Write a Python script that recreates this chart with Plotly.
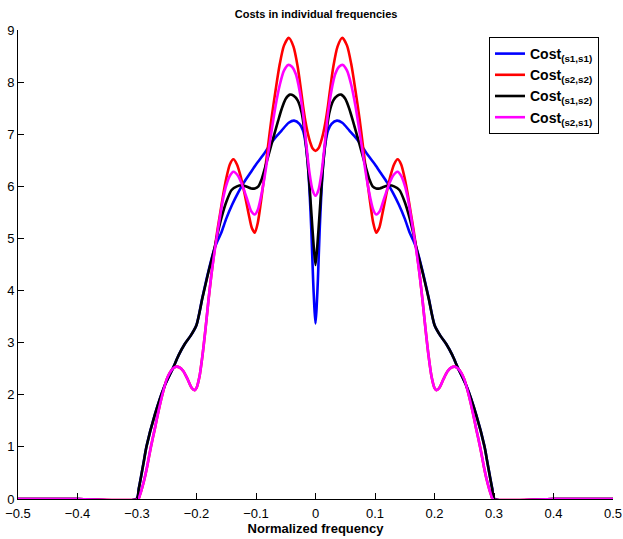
import numpy as np
import plotly.graph_objects as go

# ---- data (right half; the chart is symmetric about 0) ----
tail_x = [0.200, 0.210, 0.220, 0.230, 0.240, 0.254, 0.270, 0.284, 0.288, 0.293, 0.297, 0.301, 0.400, 0.500]
tail_y = [3.34, 3.13, 2.97, 2.76, 2.50, 2.16, 1.62, 1.01, 0.76, 0.44, 0.20, 0.00, 0.00, 0.00]

blue_x = [0.000, 0.002, 0.004, 0.007, 0.010, 0.013, 0.017, 0.021, 0.027, 0.036, 0.045, 0.057,
          0.068, 0.077, 0.088, 0.100, 0.110, 0.120, 0.130, 0.140, 0.150, 0.158, 0.164, 0.170,
          0.180, 0.190] + tail_x
blue_y = [3.37, 3.70, 4.20, 5.16, 5.90, 6.44, 6.85, 7.07, 7.20, 7.26, 7.22, 7.07,
          6.93, 6.79, 6.60, 6.42, 6.25, 6.08, 5.88, 5.65, 5.38, 5.12, 4.97, 4.80,
          4.37, 3.87] + tail_y

black_x = [0.000, 0.003, 0.007, 0.010, 0.013, 0.018, 0.023, 0.030, 0.037, 0.043, 0.050, 0.057,
           0.063, 0.070, 0.077, 0.085, 0.091, 0.096, 0.102, 0.108, 0.115, 0.124, 0.132, 0.141,
           0.150, 0.158, 0.164, 0.170, 0.180, 0.190] + tail_x
black_y = [4.49, 4.85, 5.50, 6.00, 6.44, 7.00, 7.40, 7.65, 7.74, 7.76, 7.68, 7.48,
           7.25, 6.97, 6.68, 6.35, 6.12, 6.00, 5.96, 5.96, 5.99, 6.02, 6.00, 5.93,
           5.70, 5.40, 5.12, 4.80, 4.35, 3.86] + tail_y

low_x = [0.175, 0.180, 0.185, 0.190, 0.195, 0.200, 0.203, 0.208, 0.215, 0.222, 0.228, 0.234,
         0.240, 0.245, 0.250, 0.257, 0.264, 0.270, 0.277, 0.283, 0.288, 0.292, 0.295, 0.298,
         0.400, 0.500]
low_y = [4.30, 3.80, 3.25, 2.75, 2.35, 2.13, 2.09, 2.13, 2.30, 2.45, 2.52, 2.54,
         2.50, 2.42, 2.30, 2.02, 1.68, 1.35, 0.98, 0.62, 0.36, 0.19, 0.08, 0.00,
         0.00, 0.00]

red_x = [0.000, 0.005, 0.009, 0.013, 0.017, 0.021, 0.025, 0.030, 0.037, 0.045, 0.053, 0.060,
         0.067, 0.074, 0.080, 0.086, 0.092, 0.097, 0.102, 0.107, 0.112, 0.119, 0.126, 0.132,
         0.138, 0.144, 0.150, 0.155, 0.160, 0.165, 0.170] + low_x
red_y = [6.68, 6.73, 6.85, 7.02, 7.25, 7.55, 7.90, 8.30, 8.68, 8.85, 8.70, 8.35,
         7.85, 7.30, 6.75, 6.20, 5.68, 5.30, 5.11, 5.20, 5.45, 5.85, 6.20, 6.42,
         6.52, 6.42, 6.15, 5.85, 5.50, 5.15, 4.75] + low_y

mag_x = [0.000, 0.005, 0.010, 0.015, 0.021, 0.027, 0.033, 0.040, 0.046, 0.053, 0.060, 0.067,
         0.074, 0.080, 0.086, 0.092, 0.097, 0.102, 0.108, 0.114, 0.122, 0.130, 0.138, 0.144,
         0.150, 0.155, 0.160, 0.165, 0.170] + low_x
mag_y = [5.82, 5.93, 6.25, 6.75, 7.40, 7.85, 8.15, 8.30, 8.33, 8.22, 7.95, 7.55,
         7.05, 6.60, 6.15, 5.78, 5.55, 5.46, 5.52, 5.72, 5.99, 6.20, 6.28, 6.20,
         6.02, 5.78, 5.45, 5.10, 4.72] + low_y

x_ticks = [-0.5, -0.4, -0.3, -0.2, -0.1, 0, 0.1, 0.2, 0.3, 0.4, 0.5]
x_tick_labels = ["\u22120.5", "\u22120.4", "\u22120.3", "\u22120.2", "\u22120.1", "0",
                 "0.1", "0.2", "0.3", "0.4", "0.5"]
y_ticks = [0, 1, 2, 3, 4, 5, 6, 7, 8, 9]

series = [
    ("<b>Cost<sub>(s1,s1)</sub></b>", blue_x, blue_y, "#0000FF"),
    ("<b>Cost<sub>(s2,s2)</sub></b>", red_x, red_y, "#FF0000"),
    ("<b>Cost<sub>(s1,s2)</sub></b>", black_x, black_y, "#000000"),
    ("<b>Cost<sub>(s2,s1)</sub></b>", mag_x, mag_y, "#FF00FF"),
]


def mirror(xs, ys):
    xs = np.asarray(xs, dtype=float)
    ys = np.asarray(ys, dtype=float)
    return (np.concatenate([-xs[::-1], xs[1:]]),
            np.concatenate([ys[::-1], ys[1:]]))


fig = go.Figure()
for name, xs, ys, col in series:
    fx, fy = mirror(xs, ys)
    fig.add_trace(go.Scatter(x=fx, y=fy, mode="lines", name=name,
                             line=dict(color=col, width=2.6, shape="spline", smoothing=0.7)))

font_family = "Liberation Sans, Arial, Helvetica, sans-serif"
fig.update_layout(
    width=623, height=539, autosize=False,
    margin=dict(l=18, r=10, t=30, b=40, autoexpand=False),
    paper_bgcolor="white", plot_bgcolor="white",
    font=dict(family=font_family, size=13, color="black"),
    title=dict(text="<b>Costs in individual frequencies</b>", x=0.5074, xanchor="center",
               y=1 - 14 / 539, yanchor="middle", yref="container",
               font=dict(size=11, family=font_family, color="black")),
    showlegend=True,
    legend=dict(x=(489 - 18) / 595, y=(499 - 37) / 469, xanchor="left", yanchor="top",
                bordercolor="black", borderwidth=1, bgcolor="white",
                font=dict(size=14, family=font_family, color="black"),
                itemwidth=30, tracegroupgap=0),
)
fig.update_xaxes(range=[-0.5, 0.5], tickvals=x_ticks, ticktext=x_tick_labels,
                 ticks="inside", ticklen=6, tickcolor="black", showgrid=False, zeroline=False,
                 showline=True, linecolor="black", linewidth=1, mirror=False, automargin=False,
                 tickfont=dict(size=13), ticklabelstandoff=2,
                 title=dict(text="<b>Normalized frequency</b>", font=dict(size=13), standoff=1))
fig.update_yaxes(range=[0, 9], tickvals=y_ticks, ticks="inside", ticklen=6, tickcolor="black",
                 showgrid=False, zeroline=False, showline=True, linecolor="black", linewidth=1,
                 mirror=False, automargin=False, tickfont=dict(size=13))

fig.write_html("out.html", config={"displayModeBar": False},
               post_script="document.body.style.margin='0';document.body.style.overflow='hidden';")
